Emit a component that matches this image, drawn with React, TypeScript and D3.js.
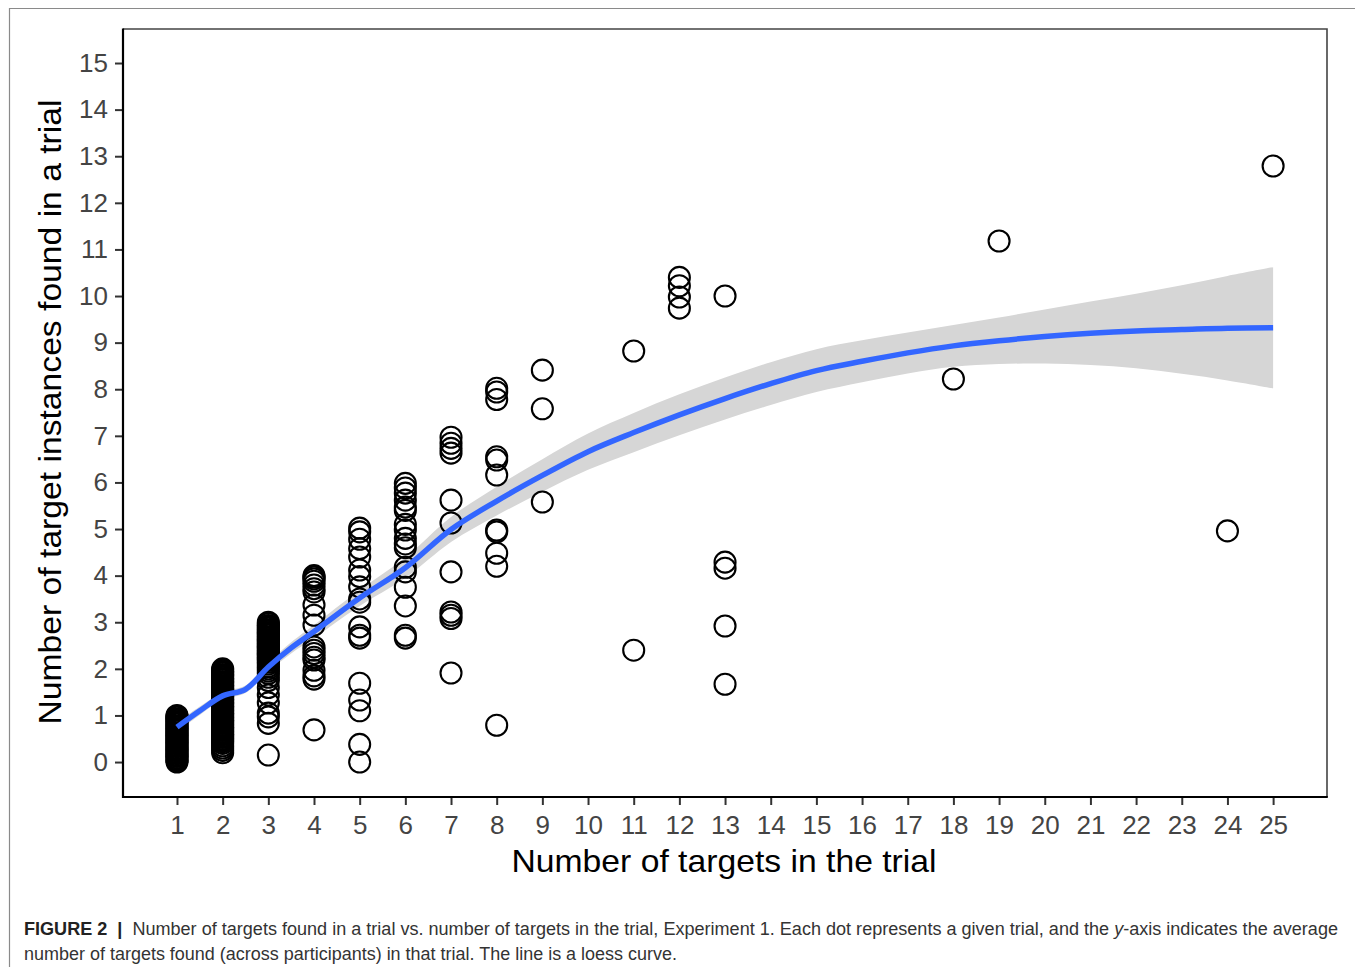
import React, { useEffect, useRef } from "react";
import * as d3 from "d3";

// trials: number of targets in the trial, and the targets found per trial
const targets = [1, 2, 3, 4, 5, 6, 7, 8, 9, 11, 12, 13, 18, 19, 24, 25];

const found1 = [0, 0.03, 0.06, 0.09, 0.12, 0.15, 0.18, 0.21, 0.24, 0.27, 0.3, 0.33, 0.36, 0.39, 0.42, 0.45, 0.48, 0.51, 0.54, 0.57, 0.6, 0.63, 0.66, 0.69, 0.72, 0.75, 0.78, 0.81, 0.84, 0.87, 0.9, 0.93, 0.96, 0.98, 1];
const found2 = [0.2, 0.25, 0.3, 0.35, 0.4, 0.44, 0.47, 0.5, 0.53, 0.56, 0.59, 0.62, 0.65, 0.68, 0.71, 0.74, 0.77, 0.8, 0.83, 0.86, 0.89, 0.92, 0.95, 0.98, 1.01, 1.04, 1.07, 1.1, 1.13, 1.16, 1.19, 1.22, 1.25, 1.28, 1.31, 1.34, 1.37, 1.4, 1.43, 1.46, 1.49, 1.52, 1.55, 1.58, 1.61, 1.64, 1.67, 1.7, 1.73, 1.76, 1.79, 1.82, 1.85, 1.88, 1.91, 1.94, 1.97, 2];
const found3 = [3, 2.97, 2.93, 2.9, 2.87, 2.84, 2.81, 2.78, 2.75, 2.72, 2.69, 2.66, 2.63, 2.6, 2.57, 2.54, 2.51, 2.48, 2.45, 2.42, 2.39, 2.36, 2.33, 2.3, 2.27, 2.24, 2.21, 2.18, 2.14, 2.1, 2.05, 2, 1.95, 1.9, 1.82, 1.75, 1.6, 1.44, 1.27, 1.05, 0.97, 0.83, 0.15];
const found4 = [4, 3.97, 3.93, 3.88, 3.8, 3.72, 3.65, 3.37, 3.15, 2.94, 2.47, 2.4, 2.33, 2.25, 2.19, 1.97, 1.85, 1.78, 0.69];
const found5 = [5.02, 4.94, 4.78, 4.58, 4.4, 4.12, 3.98, 3.76, 3.5, 3.43, 2.9, 2.72, 2.66, 1.69, 1.33, 1.1, 0.38, 0];
const found6 = [5.98, 5.88, 5.77, 5.62, 5.47, 5.4, 5.1, 4.98, 4.8, 4.68, 4.6, 4.18, 4.08, 3.75, 3.35, 2.72, 2.66];
const found7 = [6.97, 6.84, 6.73, 6.63, 5.62, 5.13, 4.08, 3.22, 3.15, 3.08, 1.91];
const found8 = [8.02, 7.94, 7.78, 6.55, 6.48, 6.16, 4.98, 4.94, 4.48, 4.2, 0.79];
const found9 = [8.41, 7.58, 5.58];
const found11 = [8.82, 2.4];
const found12 = [10.4, 10.22, 9.98, 9.74];
const found13 = [10, 4.29, 4.16, 2.92, 1.67];
const found18 = [8.22];
const found19 = [11.18];
const found24 = [4.96];
const found25 = [12.79];
const foundByTarget = [found1, found2, found3, found4, found5, found6, found7, found8, found9, found11, found12, found13, found18, found19, found24, found25];

// loess fit and its standard error band
const loessX = [1, 1.5, 2, 2.5, 3, 3.5, 4, 5, 6, 7, 8, 9, 10, 11, 12, 13, 14, 15, 16, 17, 18, 19, 20, 21, 22, 23, 24, 25];
const loessY = [0.75, 1.1, 1.42, 1.56, 2.04, 2.45, 2.8, 3.52, 4.17, 4.99, 5.6, 6.15, 6.66, 7.07, 7.45, 7.8, 8.12, 8.4, 8.6, 8.78, 8.93, 9.04, 9.13, 9.2, 9.25, 9.28, 9.31, 9.32];
const loessSe = [0.1, 0.09, 0.08, 0.08, 0.1, 0.12, 0.14, 0.17, 0.22, 0.27, 0.31, 0.35, 0.39, 0.42, 0.44, 0.45, 0.46, 0.46, 0.45, 0.44, 0.45, 0.5, 0.58, 0.68, 0.8, 0.95, 1.12, 1.3];

const xTicks = d3.range(1, 26);
const yTicks = d3.range(0, 16);

const xTitle = "Number of targets in the trial";
const yTitle = "Number of target instances found in a trial";
const captionLine1 = "  Number of targets found in a trial vs. number of targets in the trial, Experiment 1. Each dot represents a given trial, and the ";
const captionLine1b = "-axis indicates the average";
const captionLine2 = "number of targets found (across participants) in that trial. The line is a loess curve.";

const FONT = "'Liberation Sans', Arial, Helvetica, sans-serif";

const drawChart = (node: SVGSVGElement) => {
  const svg = d3.select(node);
  svg.selectAll("*").remove();

  const panel = { left: 123, right: 1327, top: 29, bottom: 797 };

  const x = d3.scaleLinear().domain([-0.182, 26.18]).range([panel.left, panel.right]);
  const y = d3.scaleLinear().domain([-0.75, 15.73]).range([panel.bottom, panel.top]);

  // outer figure frame
  svg.append("path")
    .attr("d", "M9.5,967 L9.5,8.5 L1355,8.5")
    .attr("fill", "none")
    .attr("stroke", "#8a8a8a")
    .attr("stroke-width", 1.2);

  // confidence band
  const band = d3.area<number>()
    .x((_, i) => x(loessX[i]))
    .y0((_, i) => y(loessY[i] - loessSe[i]))
    .y1((_, i) => y(loessY[i] + loessSe[i]))
    .curve(d3.curveCatmullRom.alpha(0.5));

  svg.append("path")
    .datum(loessY)
    .attr("d", band)
    .attr("fill", "#d6d6d6");

  // points
  const points: [number, number][] = [];
  targets.forEach((t, i) => foundByTarget[i].forEach((v) => points.push([t, v])));

  svg.append("g")
    .selectAll("circle")
    .data(points)
    .join("circle")
    .attr("cx", (d) => x(d[0]))
    .attr("cy", (d) => y(d[1]))
    .attr("r", 10.5)
    .attr("fill", "none")
    .attr("stroke", "#000")
    .attr("stroke-width", 2.1);

  // loess line
  const line = d3.line<number>()
    .x((_, i) => x(loessX[i]))
    .y((d) => y(d))
    .curve(d3.curveCatmullRom.alpha(0.5));

  svg.append("path")
    .datum(loessY)
    .attr("d", line)
    .attr("fill", "none")
    .attr("stroke", "#3366FF")
    .attr("stroke-width", 5.5);

  // panel border (top / right) and axis lines
  svg.append("path")
    .attr("d", `M${panel.left},${panel.top} L${panel.right},${panel.top} L${panel.right},${panel.bottom}`)
    .attr("fill", "none")
    .attr("stroke", "#444")
    .attr("stroke-width", 1.6);

  const xAxis = svg.append("g")
    .attr("transform", `translate(0, ${panel.bottom})`)
    .call(d3.axisBottom(x).tickValues(xTicks).tickSize(8).tickPadding(11).tickFormat(d3.format("d")));

  const yAxis = svg.append("g")
    .attr("transform", `translate(${panel.left}, 0)`)
    .call(d3.axisLeft(y).tickValues(yTicks).tickSize(8).tickPadding(7).tickFormat(d3.format("d")));

  [xAxis, yAxis].forEach((g) => {
    g.select(".domain").remove();
    g.selectAll(".tick line").attr("stroke", "#333").attr("stroke-width", 2);
    g.selectAll(".tick text")
      .attr("fill", "#444")
      .style("font-family", FONT)
      .style("font-size", "26px");
  });

  svg.append("path")
    .attr("d", `M${panel.left},${panel.top - 0.5} L${panel.left},${panel.bottom} L${panel.right + 0.8},${panel.bottom}`)
    .attr("fill", "none")
    .attr("stroke", "#000")
    .attr("stroke-width", 2.2);

  // axis titles
  svg.append("text")
    .attr("x", 724)
    .attr("y", 872)
    .attr("text-anchor", "middle")
    .attr("textLength", 425)
    .attr("lengthAdjust", "spacingAndGlyphs")
    .style("font-family", FONT)
    .style("font-size", "32px")
    .attr("fill", "#000")
    .text(xTitle);

  svg.append("text")
    .attr("transform", "translate(61, 412) rotate(-90)")
    .attr("text-anchor", "middle")
    .attr("textLength", 625)
    .attr("lengthAdjust", "spacingAndGlyphs")
    .style("font-family", FONT)
    .style("font-size", "32px")
    .attr("fill", "#000")
    .text(yTitle);

  // caption
  const cap1 = svg.append("text")
    .attr("x", 24)
    .attr("y", 935)
    .attr("textLength", 1314)
    .attr("lengthAdjust", "spacingAndGlyphs")
    .style("font-family", FONT)
    .style("font-size", "17.5px")
    .style("white-space", "pre")
    .attr("fill", "#333");
  cap1.append("tspan").attr("font-weight", "bold").attr("fill", "#222").text("FIGURE 2  |");
  cap1.append("tspan").text(captionLine1);
  cap1.append("tspan").attr("font-style", "italic").text("y");
  cap1.append("tspan").text(captionLine1b);

  svg.append("text")
    .attr("x", 24)
    .attr("y", 960)
    .attr("textLength", 653)
    .attr("lengthAdjust", "spacingAndGlyphs")
    .style("font-family", FONT)
    .style("font-size", "17.5px")
    .attr("fill", "#333")
    .text(captionLine2);
};

export default function App() {
  const ref = useRef<SVGSVGElement>(null);

  useEffect(() => {
    if (ref.current) drawChart(ref.current);
  }, []);

  return (
    <svg
      ref={ref}
      width={1355}
      height={967}
      style={{ position: "absolute", left: 0, top: 0, background: "#fff" }}
    />
  );
}
